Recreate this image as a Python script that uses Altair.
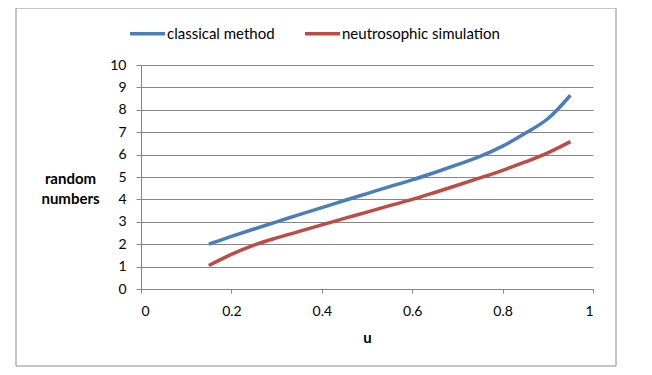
import altair as alt
import pandas as pd

u = [0.15, 0.2, 0.25, 0.3, 0.35, 0.4, 0.45, 0.5, 0.55, 0.6, 0.65, 0.7, 0.75, 0.8, 0.85, 0.9, 0.95]
classical = [2.0, 2.35, 2.68, 3.0, 3.32, 3.63, 3.95, 4.26, 4.57, 4.87, 5.2, 5.55, 5.92, 6.38, 6.95, 7.6, 8.65]
neutro = [1.05, 1.55, 1.96, 2.28, 2.57, 2.86, 3.15, 3.43, 3.72, 4.0, 4.31, 4.63, 4.96, 5.3, 5.67, 6.08, 6.58]
series = ["classical method", "neutrosophic simulation"]
colors = ["#4A7EBB", "#BE4B48"]
x_ticks = [0, 0.2, 0.4, 0.6, 0.8, 1]
y_ticks = list(range(0, 11))

rows = []
for name, vals in zip(series, [classical, neutro]):
    for xv, yv in zip(u, vals):
        rows.append({"u": xv, "value": yv, "series": name})
df = pd.DataFrame(rows)

FONT = "Lato"
W, H = 452, 224

lines = alt.Chart(df).mark_line(strokeWidth=3.5, interpolate="catmull-rom").encode(
    x=alt.X("u:Q", scale=alt.Scale(domain=[0, 1], nice=False),
            axis=alt.Axis(values=x_ticks, title="u", grid=False, tickSize=4,
                          labelPadding=11, titleY=48, titleX=W / 2,
                          titleBaseline="middle", format="~g")),
    y=alt.Y("value:Q", scale=alt.Scale(domain=[0, 10], nice=False),
            axis=alt.Axis(values=y_ticks, title=["random", "numbers"], grid=True,
                          tickSize=5, labelPadding=10, titleAngle=0, titleAlign="center",
                          titleBaseline="middle", titleX=-71, titleY=113,
                          titleLineHeight=20)),
    color=alt.Color("series:N", scale=alt.Scale(domain=series, range=colors),
                    legend=alt.Legend(title=None, orient="none", direction="horizontal",
                                      legendX=-13, legendY=-51, symbolType="stroke",
                                      symbolSize=1225, symbolStrokeWidth=3.5,
                                      labelOffset=0, columnPadding=23, padding=0,
                                      labelFontSize=15, labelFont=FONT,
                                      labelColor="#000000")),
    order="u:Q",
)

frame = alt.Chart(pd.DataFrame({"k": [0]})).mark_rect(
    fill=None, stroke="#8C8C8C", strokeWidth=1
).encode(
    x=alt.value(-125), x2=alt.value(475), y=alt.value(-57), y2=alt.value(301)
)

chart = alt.layer(frame, lines).properties(
    width=W, height=H,
    autosize=alt.AutoSizeParams(type="none"),
    padding={"left": 133, "top": 57, "right": 40, "bottom": 80},
).configure_view(stroke=None).configure_axis(
    labelFont=FONT, labelFontSize=14, labelColor="#000000",
    titleFont=FONT, titleFontSize=15, titleFontWeight="bold", titleColor="#000000",
    domainColor="#868686", tickColor="#868686", gridColor="#868686",
    domainWidth=1, tickWidth=1, gridWidth=1,
)

chart.save("out.html", embed_options={"renderer": "svg", "actions": False})
